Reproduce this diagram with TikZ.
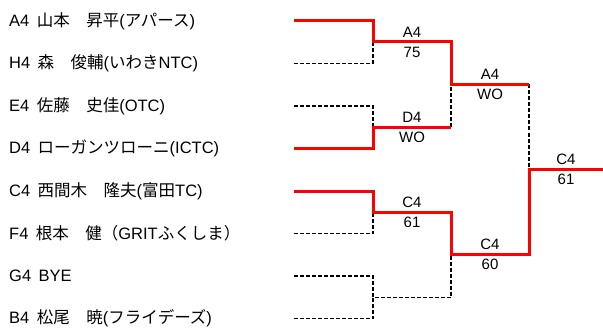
\documentclass[tikz,border=0pt]{standalone}
\usepackage{fontspec}
\setmainfont{Liberation Sans}
\newfontfamily\jp{Noto Sans CJK JP}
\usetikzlibrary{positioning}

\begin{document}
\begin{tikzpicture}[
        x=1pt, y=-1pt,
        win/.style={red, line width=3pt},
        lose/.style={black, line width=1.5pt, dash pattern=on 4pt off 2pt},
        every node/.style={inner sep=0pt, font=\fontsize{16.5}{18}\selectfont},
        score/.style={font=\fontsize{15}{17}\selectfont}
    ]
    \useasboundingbox (0,0) rectangle (603,329);

    % Draw player names and line starts
    \foreach \name [count=\i] in {
            A4\hspace{0.45em}{\jp 山本　昇平}({\jp アパース}),
            H4\hspace{0.45em}{\jp 森　俊輔}({\jp いわき}NTC),
            E4\hspace{0.45em}{\jp 佐藤　史佳}(OTC),
            D4\hspace{0.45em}{\jp ローガンツローニ}(ICTC),
            C4\hspace{0.45em}{\jp 西間木　隆夫}({\jp 富田}TC),
            F4\hspace{0.45em}{\jp 根本　健（}GRIT{\jp ふくしま）},
            G4\hspace{0.45em}BYE,
            B4\hspace{0.45em}{\jp 松尾　暁}({\jp フライデーズ})} {
        \pgfmathsetmacro\y{21+42.5*(\i-1)}
        \node[anchor=west] (pl\i) at (9,\y) {\name};
        \coordinate (e\i) at (294,\y);
    }

    % Junctions of each round
    \coordinate (m1) at (373,42);
    \coordinate (m2) at (373,127);
    \coordinate (m3) at (373,212);
    \coordinate (m4) at (373,297.5);
    \coordinate (s1) at (451,84.5);
    \coordinate (s2) at (451,254.5);
    \coordinate (f) at (529,169.5);
    \coordinate (end) at (603,169.5);

    % Losing lines
    \draw[lose] (e2) -| (m1);
    \draw[lose] (e3) -| (m2);
    \draw[lose] (e6) -| (m3);
    \draw[lose] (e7) -| (m4);
    \draw[lose] (e8) -| (m4) -| (s2);
    \draw[lose] (m2 -| s1) -- (s1);
    \draw[lose] (s1 -| f) -- (f);

    % Winning lines
    \draw[win] (e1) -| (m1) -| (s1) -- (s1 -| f);
    \draw[win] (e4) -| (m2) -- (m2 -| s1);
    \draw[win] (e5) -| (m3) -| (s2) -- (s2 -| f) -- (f) -- (end);

    % Winners and scores
    \foreach \x/\y/\w/\s [count=\k] in {412/42/A4/75, 412/127/D4/WO, 412/212/C4/61,
                                         490/84.5/A4/WO, 490/254.5/C4/60, 566/169.5/C4/61} {
        \node[score] (w\k) at (\x,\y-10) {\w};
        \node[score] (sc\k) at (\x,\y+10) {\s};
    }

\end{tikzpicture}
\end{document}
